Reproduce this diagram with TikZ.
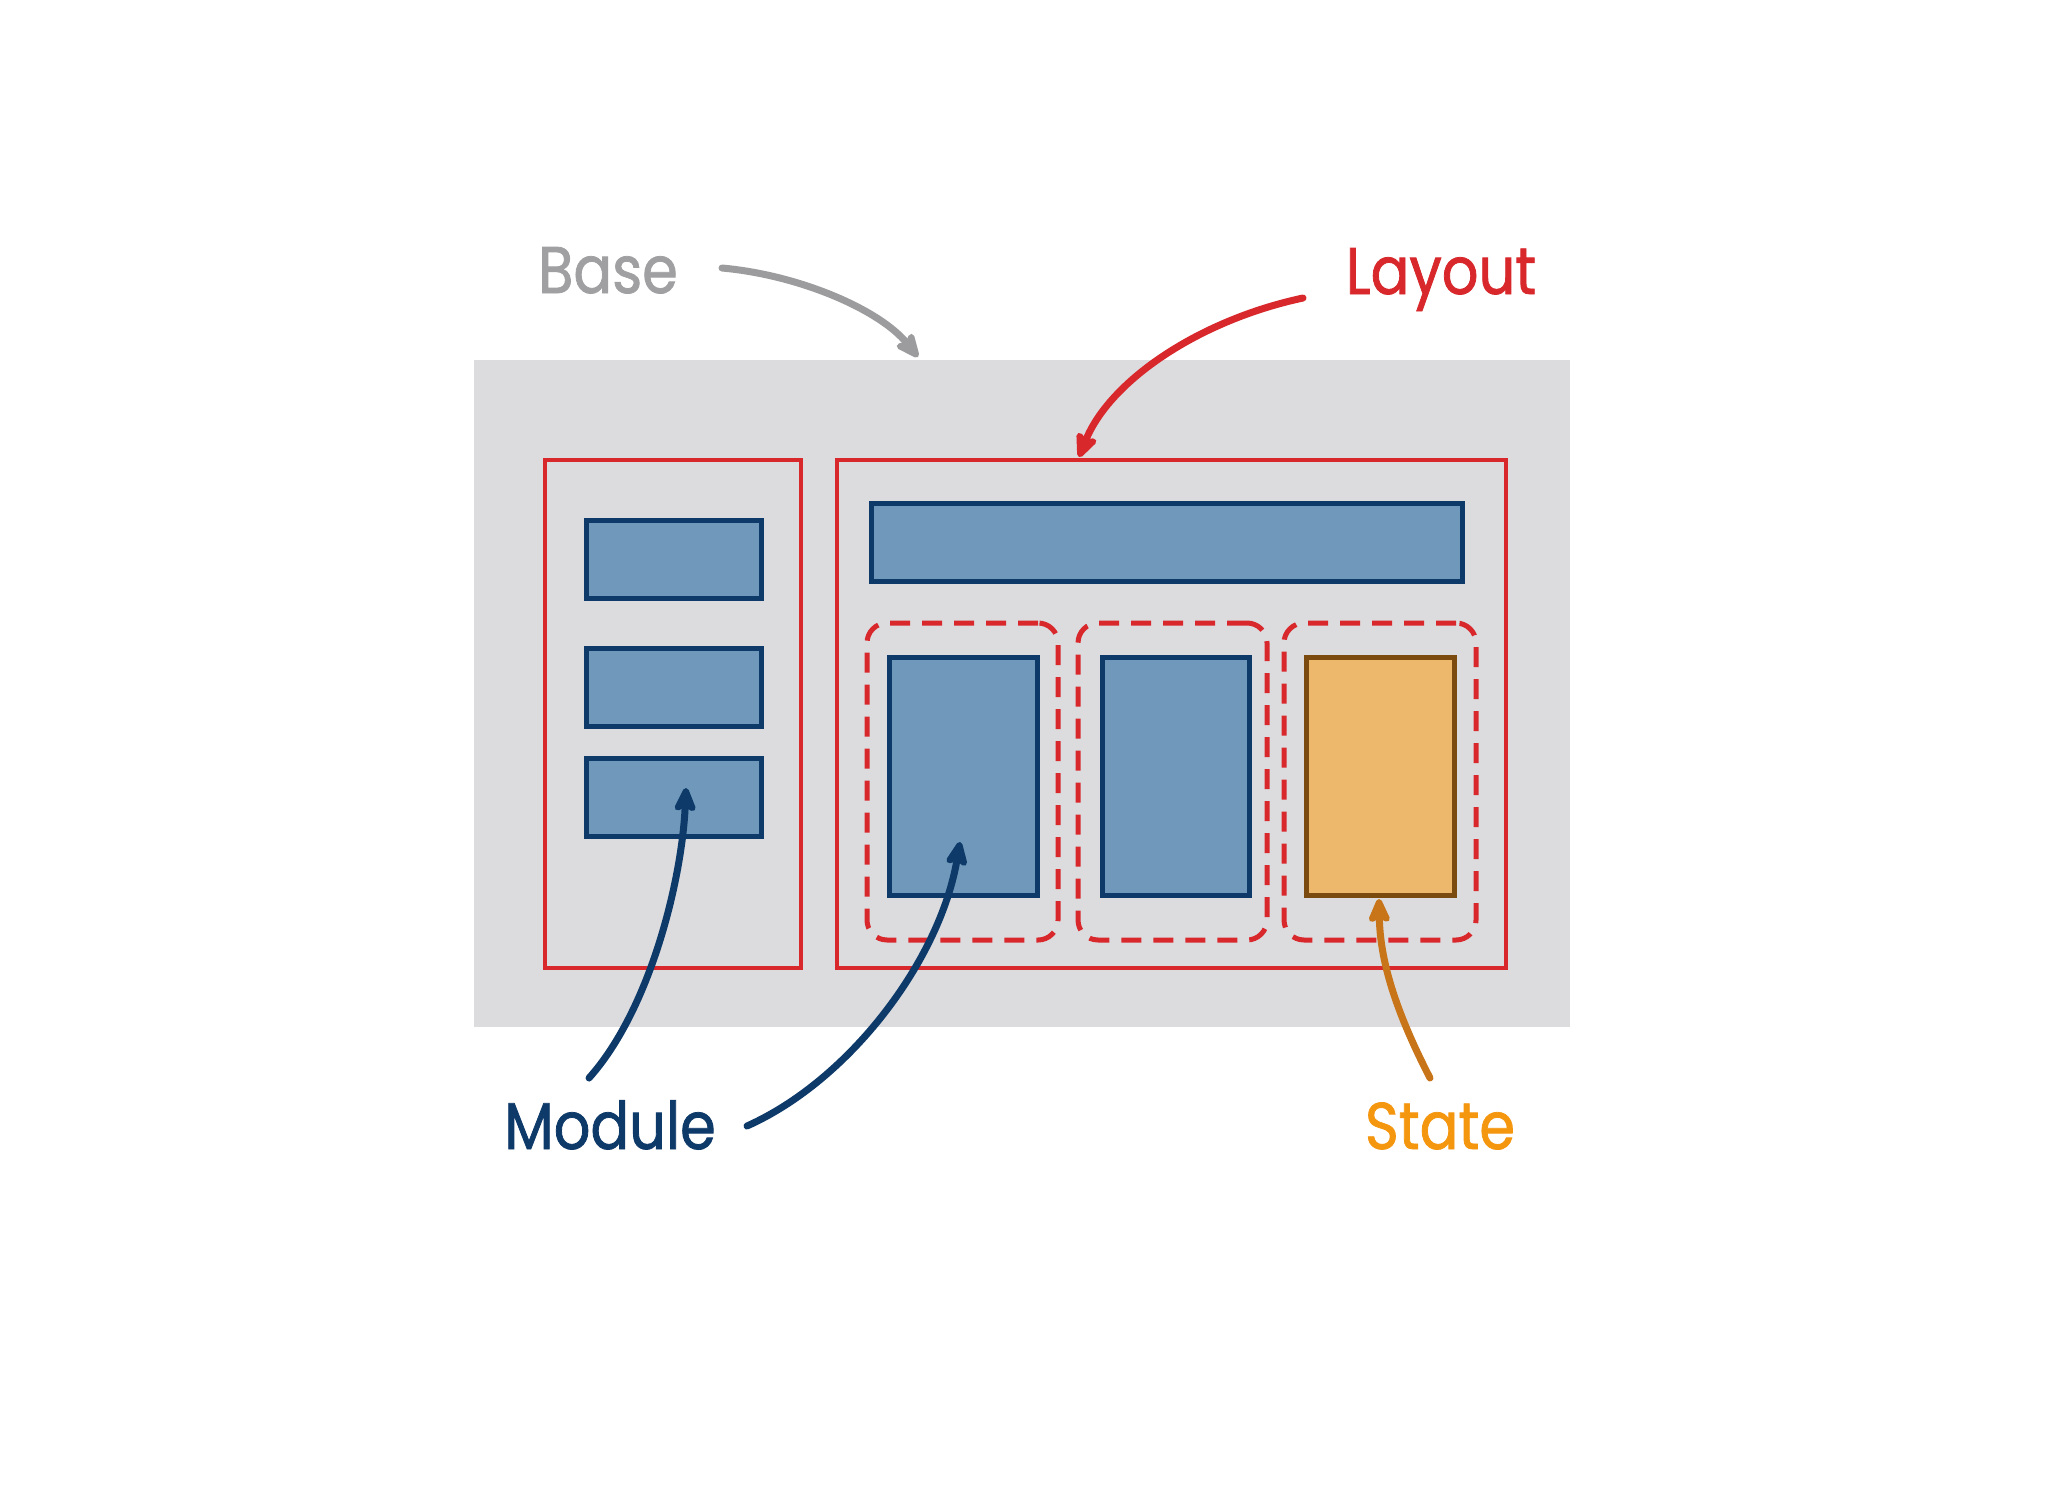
\documentclass[tikz,border=0pt]{standalone}
\usepackage{fontspec}
\setmainfont[FakeStretch=0.87,FakeBold=1.2]{Poppins}
\usetikzlibrary{arrows.meta}
\definecolor{bgGray}{HTML}{DCDCDE}
\definecolor{lyRed}{HTML}{D8282C}
\definecolor{modFill}{HTML}{7098BA}
\definecolor{modLine}{HTML}{0E3A6A}
\definecolor{stFill}{HTML}{EDB86B}
\definecolor{stLine}{HTML}{7A4A0E}
\definecolor{baseTxt}{HTML}{A0A0A2}
\definecolor{baseArr}{HTML}{9C9C9E}
\definecolor{stTxt}{HTML}{F5960F}
\definecolor{stArr}{HTML}{C87418}
\tikzset{
  basebox/.style={fill=bgGray, draw=none, anchor=north west, inner sep=0pt, outer sep=0pt},
  layoutbox/.style={draw=lyRed, line width=4.5pt, anchor=north west, inner sep=0pt, outer sep=0pt},
  dashbox/.style={draw=lyRed, line width=5pt, dash pattern=on 20pt off 12pt, rounded corners=20pt, anchor=north west, inner sep=0pt, outer sep=0pt},
  modbox/.style={fill=modFill, draw=modLine, line width=5pt, anchor=north west, inner sep=0pt, outer sep=0pt},
  statebox/.style={fill=stFill, draw=stLine, line width=5pt, anchor=north west, inner sep=0pt, outer sep=0pt},
  lbl/.style={anchor=base, inner sep=0pt, font=\fontsize{66}{70}\selectfont},
  arr/.style={line width=7pt, line cap=round, -{Stealth[length=30pt, width=26pt, inset=6pt, round]}},
}
\begin{document}
\begin{tikzpicture}[x=1pt, y=-1pt]
\useasboundingbox (0,0) rectangle (2048,1494);
\fill[white] (0,0) rectangle (2048,1494);
% base
\node[basebox, minimum width=1096pt, minimum height=667pt] (base) at (474,360) {};
% layout boxes
\node[layoutbox, minimum width=256pt, minimum height=508pt] (side) at (545,460) {};
\node[layoutbox, minimum width=669pt, minimum height=508pt] (main) at (837,460) {};
% side modules
\node[modbox, minimum width=175pt, minimum height=78pt] (s1) at (586,520) {};
\node[modbox, minimum width=175pt, minimum height=78pt] (s2) at (586,648) {};
\node[modbox, minimum width=175pt, minimum height=78pt] (s3) at (586,758) {};
% top bar
\node[modbox, minimum width=591pt, minimum height=78pt] (bar) at (871,503) {};
% dashed regions
\node[dashbox, minimum width=191pt, minimum height=317pt] (d1) at (867,623) {};
\node[dashbox, minimum width=189pt, minimum height=317pt] (d2) at (1078,623) {};
\node[dashbox, minimum width=192pt, minimum height=317pt] (d3) at (1284,623) {};
% tall modules
\node[modbox, minimum width=148pt, minimum height=238pt] (t1) at (889,657) {};
\node[modbox, minimum width=147pt, minimum height=238pt] (t2) at (1102,657) {};
\node[statebox, minimum width=148pt, minimum height=238pt] (t3) at (1306,657) {};
% labels
\node[lbl, text=baseTxt] (lbase) at (608,293) {Base};
\node[lbl, text=lyRed] (llayout) at (1441,294) {Layout};
\node[lbl, text=modLine] (lmodule) at (610,1149) {Module};
\node[lbl, text=stTxt] (lstate) at (1440,1149) {State};
% arrow endpoints
\coordinate (bs) at (722,268);
\coordinate (bt) at (918,357);
\coordinate (ls) at (1303,298);
\coordinate (lt) at (1079,457);
\coordinate (m1s) at (589,1078);
\coordinate (m1t) at (686,788);
\coordinate (m2s) at (747,1126);
\coordinate (m2t) at (960,842);
\coordinate (ss) at (1430,1078);
\coordinate (st) at (1379,899);
% arrows
\draw[arr, draw=baseArr] (bs) .. controls (800,275) and (880,310) .. (bt);
\draw[arr, draw=lyRed] (ls) .. controls (1200,320) and (1110,380) .. (lt);
\draw[arr, draw=modLine] (m1s) .. controls (650,1010) and (682,880) .. (m1t);
\draw[arr, draw=modLine] (m2s) .. controls (850,1080) and (940,960) .. (m2t);
\draw[arr, draw=stArr] (ss) .. controls (1395,1010) and (1380,960) .. (st);
\end{tikzpicture}
\end{document}
